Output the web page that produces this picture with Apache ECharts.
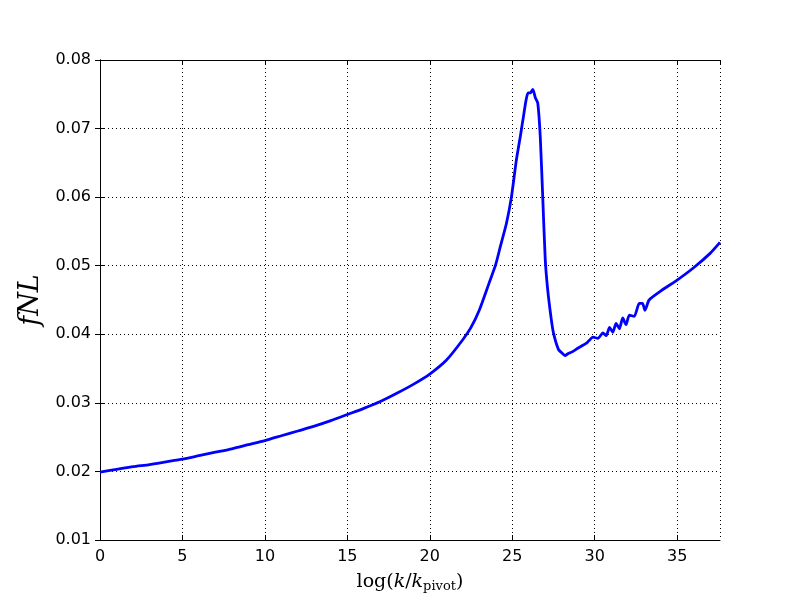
<!DOCTYPE html>
<html>
<head>
<meta charset="utf-8">
<script src="https://cdn.jsdelivr.net/npm/echarts@6/dist/echarts.min.js"></script>
<style>
html, body { margin: 0; padding: 0; background: #fff; }
#chart { width: 800px; height: 600px; }
</style>
</head>
<body>
<div id="chart"></div>
<script>
// log(k/kpivot) values
var kValues = [0, 1, 2, 3, 4, 5, 6, 7, 8, 9, 10, 11, 12, 13, 14, 15, 16, 17, 18, 19, 20,
    21, 22, 22.5, 23, 23.6, 24, 24.3, 24.65, 24.95, 25.25, 25.5, 25.65, 25.96, 26.1, 26.25,
    26.4, 26.55, 26.7, 26.85, 27.0, 27.15, 27.35, 27.5, 27.8, 28.0, 28.2, 28.4, 28.6, 29.0,
    29.5, 29.9, 30.2, 30.5, 30.7, 30.9, 31.1, 31.3, 31.5, 31.7, 31.9, 32.1, 32.4, 32.7,
    32.9, 33.05, 33.3, 34, 35, 36, 37, 37.6];
// fNL values
var fnlValues = [0.0199, 0.0203, 0.0207, 0.0210, 0.0214, 0.0218, 0.0223, 0.0228, 0.0233, 0.0239, 0.0245,
    0.0252, 0.0259, 0.0266, 0.0274, 0.0283, 0.0292, 0.0302, 0.0314, 0.0327, 0.0342,
    0.0362, 0.0392, 0.0410, 0.0435, 0.0475, 0.0502, 0.0530, 0.0562, 0.0600, 0.0654, 0.0690,
    0.0713, 0.0752, 0.0752, 0.0757, 0.0745, 0.0737, 0.0688, 0.0600, 0.0510, 0.0465, 0.0425,
    0.0402, 0.0378, 0.0373, 0.0369, 0.0372, 0.0374, 0.0380, 0.0387, 0.0396, 0.0394, 0.0402,
    0.0398, 0.0410, 0.0403, 0.0416, 0.0408, 0.0424, 0.0414, 0.0428, 0.0426, 0.0445, 0.0445,
    0.0435, 0.0450, 0.0463, 0.0479, 0.0497, 0.0518, 0.0534];

var xMin = 0, xMax = 37.6, xStep = 5;
var yMin = 0.01, yMax = 0.08, yStep = 0.01;

var points = [];
for (var i = 0; i < kValues.length; i++) {
    points.push([kValues[i], fnlValues[i]]);
}

var labelFont = { fontFamily: 'DejaVu Sans', fontSize: 16, color: '#000' };
var axisBlack = { show: true, lineStyle: { color: '#000', width: 1 } };
var tickIn = { show: true, inside: true, length: 5, lineStyle: { color: '#000' } };
var dotted = { show: true, lineStyle: { color: '#000', width: 1, type: [1, 3] } };

var chart = echarts.init(document.getElementById('chart'));
chart.setOption({
    backgroundColor: '#fff',
    animation: false,
    grid: { left: 100, right: 80, top: 60, bottom: 60, containLabel: false, outerBoundsMode: 'none' },
    xAxis: [
        {
            type: 'value', min: xMin, max: xMax, interval: xStep,
            axisLine: axisBlack, axisTick: tickIn, splitLine: dotted,
            axisLabel: Object.assign({ margin: 9, showMaxLabel: false }, labelFont),
            name: '{r|log(}{i|k}{r|/}{i|k}{s|pivot}{r|)}',
            nameLocation: 'middle', nameGap: 30,
            nameTextStyle: {
                rich: {
                    r: { fontFamily: 'DejaVu Serif', fontSize: 19, color: '#000', lineHeight: 24 },
                    i: { fontFamily: 'DejaVu Serif', fontStyle: 'italic', fontSize: 19, color: '#000', lineHeight: 24 },
                    s: { fontFamily: 'DejaVu Serif', fontSize: 13, color: '#000', lineHeight: 24, padding: [10, 0, 0, 0] }
                }
            }
        },
        {
            type: 'value', position: 'top', min: xMin, max: xMax, interval: xStep,
            axisLine: axisBlack, axisTick: tickIn, splitLine: { show: false },
            axisLabel: { show: false }
        }
    ],
    yAxis: [
        {
            type: 'value', min: yMin, max: yMax, interval: yStep,
            axisLine: axisBlack, axisTick: tickIn, splitLine: dotted,
            axisLabel: Object.assign({ margin: 9, formatter: function (v) { return v.toFixed(2); } }, labelFont),
            name: 'fNL', nameLocation: 'middle', nameGap: 51, nameRotate: 90,
            nameTextStyle: { fontFamily: 'DejaVu Serif', fontStyle: 'italic', fontSize: 27, color: '#000' }
        },
        {
            type: 'value', position: 'right', min: yMin, max: yMax, interval: yStep,
            axisLine: axisBlack, axisTick: tickIn, splitLine: { show: false },
            axisLabel: { show: false }
        }
    ],
    series: [{
        type: 'line',
        data: points,
        showSymbol: false,
        smooth: 0.2,
        clip: true,
        lineStyle: { color: '#0000ff', width: 2.8 }
    }]
});
</script>
</body>
</html>
